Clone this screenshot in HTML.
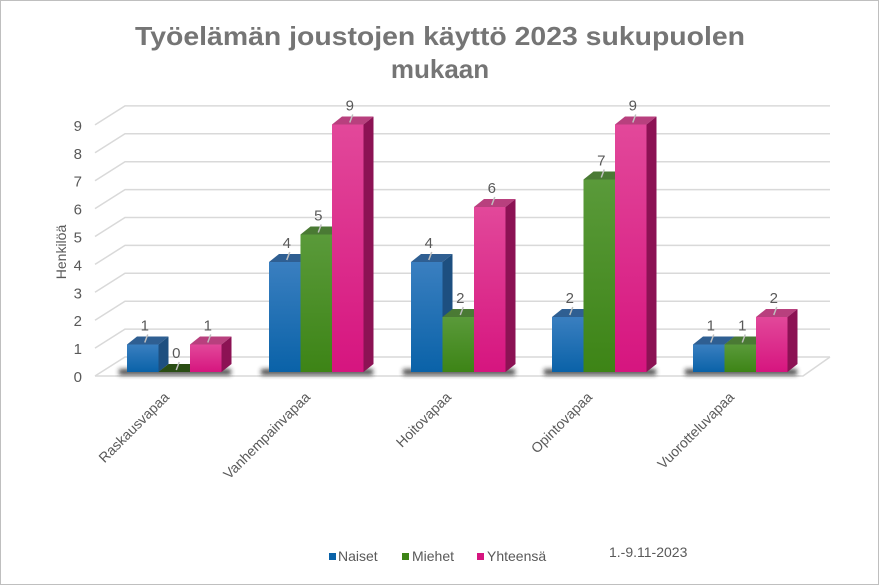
<!DOCTYPE html>
<html><head><meta charset="utf-8"><style>
html,body{margin:0;padding:0;background:#fff}
svg{display:block;font-family:"Liberation Sans",Arial,sans-serif}
</style></head><body>
<svg width="879" height="585" viewBox="0 0 879 585" xmlns="http://www.w3.org/2000/svg">
<defs>
<linearGradient id="gb" x1="0" y1="0" x2="0" y2="1"><stop offset="0" stop-color="#3a7fc0"/><stop offset="1" stop-color="#0a62a8"/></linearGradient>
<linearGradient id="gg" x1="0" y1="0" x2="0" y2="1"><stop offset="0" stop-color="#5a9a3a"/><stop offset="1" stop-color="#3d8416"/></linearGradient>
<linearGradient id="gp" x1="0" y1="0" x2="0" y2="1"><stop offset="0" stop-color="#e2489a"/><stop offset="1" stop-color="#d6157f"/></linearGradient>
<filter id="bl" x="-20%" y="-200%" width="140%" height="500%"><feGaussianBlur stdDeviation="2.5"/></filter>
</defs>
<rect x="0.5" y="0.5" width="878" height="584" fill="#fff" stroke="#bfbfbf"/>
<text x="440" y="45" text-anchor="middle" font-size="26" font-weight="bold" fill="#757575" textLength="610" lengthAdjust="spacingAndGlyphs">Työelämän joustojen käyttö 2023 sukupuolen</text>
<text x="440" y="78" text-anchor="middle" font-size="26" font-weight="bold" fill="#757575">mukaan</text>
<g stroke="#d9d9d9" stroke-width="1.5" fill="none" id="grid"></g>
<g id="bars"></g>
<text transform="translate(66,252) rotate(-90)" text-anchor="middle" font-size="14" fill="#595959">Henkilöä</text>
<g font-size="15" fill="#595959" id="ylab"></g>
<g font-size="14" fill="#595959" text-anchor="end">
<text transform="translate(170,398) rotate(-45)">Raskausvapaa</text>
<text transform="translate(311,398) rotate(-45)">Vanhempainvapaa</text>
<text transform="translate(452,398) rotate(-45)">Hoitovapaa</text>
<text transform="translate(593,398) rotate(-45)">Opintovapaa</text>
<text transform="translate(735,398) rotate(-45)">Vuorotteluvapaa</text>
</g>
<g font-size="14" fill="#595959">
<rect x="329" y="553" width="7" height="7" fill="#0a62a8"/><text x="338" y="561">Naiset</text>
<rect x="402" y="553" width="7" height="7" fill="#3d8416"/><text x="412" y="561">Miehet</text>
<rect x="477" y="553" width="7" height="7" fill="#d6157f"/><text x="487" y="561">Yhteensä</text>
<text x="609" y="557">1.-9.11-2023</text>
</g>
<script>
var ns="http://www.w3.org/2000/svg";
function el(p,t,a,txt){var e=document.createElementNS(ns,t);for(var k in a)e.setAttribute(k,a[k]);if(txt!==undefined)e.textContent=txt;p.appendChild(e);return e;}
var g=document.getElementById('grid'),yl=document.getElementById('ylab'),b=document.getElementById('bars');
for(var v=0;v<=9;v++){var yb=357-27.9*v,yf=376-27.9*v;
el(g,'path',{d:'M95 '+yf+' L125 '+yb+' L830 '+yb});
el(yl,'text',{x:82,y:yf+6,'text-anchor':'end'},String(v));}
el(g,'path',{d:'M95 376 L803 376 L830 357'});
var data=[[1,0,1],[4,5,9],[4,2,6],[2,7,9],[1,1,2]];
var starts=[127,269,411,552,693];
var fill=['url(#gb)','url(#gg)','url(#gp)'],top_=['#2f5f92','#4a7a34','#b8407e'],side=['#1d4f80','#2f5f18','#8c1254'];
for(var i=0;i<5;i++){el(b,'rect',{x:starts[i]-8,y:369,width:112,height:6,fill:'#222',opacity:0.8,filter:'url(#bl)'});}
for(var i=0;i<5;i++)for(var s=0;s<3;s++){
var x=starts[i]+s*31.5,w=31.5,v=data[i][s],h=27.5*v,y=372-h,dx=10,dy=-8;
if(v>0){
el(b,'rect',{x:x,y:y,width:w,height:h,fill:fill[s]});
el(b,'path',{d:'M'+x+' '+y+' l'+dx+' '+dy+' l'+w+' 0 l'+(-dx)+' '+(-dy)+'z',fill:top_[s]});
el(b,'path',{d:'M'+(x+w)+' '+y+' l'+dx+' '+dy+' l0 '+h+' l'+(-dx)+' '+(-dy)+'z',fill:side[s]});
}else{
el(b,'path',{d:'M'+x+' 372 l'+dx+' '+dy+' l'+w+' 0 l'+(-dx)+' '+(-dy)+'z',fill:'#2a4d14'});
}
var cx=x+w/2+2;
el(b,'line',{x1:cx,y1:y-2,x2:cx+3,y2:y-10,stroke:'#bfbfbf','stroke-width':1.5});
el(b,'text',{x:cx,y:y-14,'text-anchor':'middle','font-size':15,fill:'#595959'},String(v));
}
</script>
</svg>
</body></html>
